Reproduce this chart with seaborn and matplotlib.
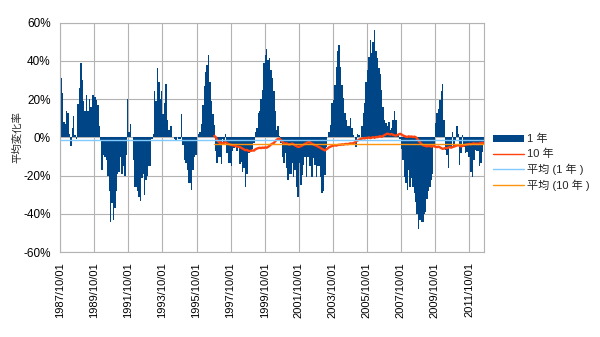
import numpy as np
import pandas as pd
import matplotlib
matplotlib.use('Agg')
import matplotlib.pyplot as plt
import seaborn as sns
from matplotlib.patches import Patch
from matplotlib.lines import Line2D

# ---------------- data ----------------
start_month = '1987-10-01'

one_year = [
    # 1987/10 - 1990/02
    31, 23, 8, 7, 14, 12.6, 2, -4.5, 5, 11, 1, -1, 17.5, 25.7, 39, 30, 19, 14, 22, 14,
    20, 16, 22, 22, 21, 19.6, 17, 5.7, -2,
    -17, -9, -10, -12, -20, -28, -44, -34, -43, -37, -28, -19, -18, -10, -19, -15, -20, -9,
    20, 3, 7, 0, -12, -26, -26, -28, -31, -33, -21, -19, -30, -22, -20, -15, -15, -1, 2,
    24, 19, 36, 29, 20, 24, 12, 18, 28, 9, 4, 6, 6, 0, -1, -2, 0, -1, -1, 12,
    -4, -12, -13.5, -17, -24, -24, -27.5, -17, -10, -9, 0, 2, 3, 7, 17, 27, 34, 38, 43, 29,
    19, 12, 6.5, -7, -13.5, -10, -10, -14, -1, -3, 2, -8, -13.5, -13.5, -15, -7, -5.7, -5, -7, -5,
    -14, -13,
    -18, -16, -26, -19, -8, -8, -7, -6, -3, 3, 5, 12.6, 14, 20, 25, 39, 43, 46, 40.5, 41.4,
    35, 31, 24, 14, 4, 5.7, 0.5, -3, -10, -13.5, -8, -16, -22, -19, -19, -13.5, -20.5, -17, -26, -31,
    -13.5,
    -25, -19.6, -14.4, -10, -20.5, -10, -15, -15, -20.5, -11, -14.4, -20.5, -15, -15, -20.5,
    -29, -28, -19.6, -5, 0, 3, 6.5, 18, 19.6, 27.5, 37, 45, 48, 37, 27.5, 20.5, 12.7, 9, 5.7, 5.7,
    10, 5, 1, 0, -5, 2, 1,
    0, 5.7, 12.6, 18, 29, 35, 42, 51, 44, 50, 56, 45, 41.5, 36, 33, 25, 16, 9, 7.4, 5.7,
    8, 4, 5, 9, 14, 9, 2, 1, -1, -6, -12, -20.5, -24, -27.5, -17, -26, -21, -26, -29, -33.5, -40,
    -48, -43, -44, -44, -40, -39, -32, -28, -26, -22, -19, -5, 7.4, 12.6, 15, 19.6, 24, 28, 9, -6.5,
    -9, -16, -5.7, -5.7, 3, -5, -2, 5.7, 2, -14.4, -8, 1.3, -5, -8, -7.5, -10, -10, -18, -20.5, -12,
    -6.5, -7, -7, -15, -13.5, -7.5, -3,
]

ten_year_start = 108  # month index of 1996/10
ten_year = [
    0.8, 0.2, -1.5, -2.2, -2.9, -2.6, -3.1, -2.8, -2.5, -3.0, -3.4, -3.7,
    -3.9, -4.2, -4.0, -4.6, -4.8, -4.9, -5.1, -5.4, -5.9, -6.3, -6.7, -6.5,
    -7.0, -7.2, -7.0, -6.8, -6.9, -6.2, -5.9, -5.6, -5.4, -5.6, -5.3, -5.5,
    -5.2, -5.4, -4.9, -4.4, -3.7, -3.3, -2.9, -2.0, -1.2, -0.9, -0.6, -1.4,
    -2.4, -2.9, -3.3, -3.1, -3.5, -3.8, -3.4, -3.2, -3.7, -4.2, -4.6, -5.0,
    -4.9, -4.6, -4.2, -3.8, -3.3, -2.9, -2.6, -2.4, -2.9, -3.3, -3.7, -4.1,
    -4.3, -4.8, -5.1, -5.6, -6.0, -6.4, -6.8, -6.2, -5.7, -5.1, -4.8, -4.5,
    -4.3, -4.1, -4.3, -4.0, -3.8, -3.9, -3.6, -3.8, -3.5, -3.4, -3.6, -3.3,
    -3.1, -3.2, -3.0, -2.6, -2.1, -1.6, -1.2, -0.9, -0.6, -0.4, -0.6, -0.2,
    -0.3, 0.0, -0.4, -0.1, 0.1, -0.2, 0.3, 0.1, 0.4, 0.6, 0.3, 0.8,
    1.2, 1.6, 2.0, 1.7, 1.5, 1.8, 1.3, 1.1, 0.9, 1.2, 1.6, 1.9,
    1.5, 1.0, 0.7, 0.4, 0.2, 0.6, 0.3, 0.5, 0.2, 0.4, 0.1, -0.6,
    -1.8, -2.6, -3.4, -4.0, -4.3, -4.5, -4.7, -4.4, -4.6, -4.8, -4.5, -4.7,
    -4.9, -5.1, -4.8, -5.2, -5.6, -6.0, -5.8, -5.5, -5.6, -5.3, -5.1, -5.4,
    -5.0, -4.8, -4.5, -4.2, -4.0, -4.4, -4.7, -4.5, -4.2, -3.9, -3.7, -3.6,
    -3.4, -3.6, -3.3, -3.1, -3.4, -3.2, -3.5, -3.1, -3.0, -2.8, -3.0,
]

mean_1y = -1.6
mean_10y = -3.3

y_ticks = [-60, -40, -20, 0, 20, 40, 60]
tick_every = 24
series_labels = ['1 年', '10 年', '平均 (1 年 )', '平均 (10 年 )']
y_label = '平均変化率'

# ---------------- style ----------------
sns.set_style('white')
plt.rcParams['font.family'] = ['Liberation Sans', 'Noto Sans CJK JP']

c_bar = '#004586'
c_ten = '#ff420e'
c_m1 = '#83caff'
c_m10 = '#ff950e'
c_grid = '#b3b3b3'

n = len(one_year)
dates = pd.date_range(start_month, periods=n, freq='MS')
pos = np.arange(n) + 0.5
df = pd.DataFrame({'pos': pos, 'v': one_year})
df10 = pd.DataFrame({'pos': pos[ten_year_start:ten_year_start + len(ten_year)], 'v': ten_year})

fig = plt.figure(figsize=(6, 3.37), dpi=100)
ax = fig.add_axes([60.3 / 600, 1 - 252.3 / 337, (484 - 60.3) / 600, (252.3 - 22.5) / 337])

sns.barplot(data=df, x='pos', y='v', native_scale=True, width=1.0, color=c_bar,
            saturation=1, errorbar=None, linewidth=0, ax=ax, zorder=2)
sns.lineplot(data=df10, x='pos', y='v', color=c_ten, linewidth=1.7, ax=ax, zorder=3)
x_all = [pos[0] - 0.5, pos[-1] + 0.5]
sns.lineplot(x=x_all, y=[mean_1y] * 2, color=c_m1, linewidth=1.0, ax=ax, zorder=4)
x_10 = [pos[ten_year_start] - 0.5, pos[-1] + 0.5]
sns.lineplot(x=x_10, y=[mean_10y] * 2, color=c_m10, linewidth=1.0, ax=ax, zorder=5)

ax.set_xlim(0, (484 - 60.3) / 1.419)
ax.set_ylim(y_ticks[0], y_ticks[-1])
ax.set_yticks(y_ticks)
ax.set_yticklabels([f'{v}%' for v in y_ticks], fontsize=8.5)
xt = np.arange(0, n, tick_every)
ax.set_xticks(xt)
ax.set_xticklabels([dates[i].strftime('%Y/%m/%d') for i in xt], rotation=90, fontsize=8)
ax.set_xlabel('')
ax.set_ylabel(y_label, fontsize=7.5)
ax.yaxis.set_label_coords(-0.089, 0.5)

ax.set_axisbelow(True)
ax.grid(True, color=c_grid, linewidth=0.8)
for s in ax.spines.values():
    s.set_color(c_grid)
    s.set_linewidth(0.8)
ax.tick_params(axis='both', length=4, width=0.8, color=c_grid, pad=3, labelcolor='black')

handles = [Patch(facecolor=c_bar, edgecolor='none'),
           Line2D([], [], color=c_ten, linewidth=1.0),
           Line2D([], [], color=c_m1, linewidth=1.0),
           Line2D([], [], color=c_m10, linewidth=1.0)]
fig.legend(handles, series_labels, loc='center left', bbox_to_anchor=(493 / 600, 1 - 162.5 / 337),
           frameon=False, fontsize=8, handlelength=2.8, handletextpad=0.3, labelspacing=0.4,
           borderpad=0, borderaxespad=0, handleheight=0.6)

fig.savefig('out.png', dpi=100)
